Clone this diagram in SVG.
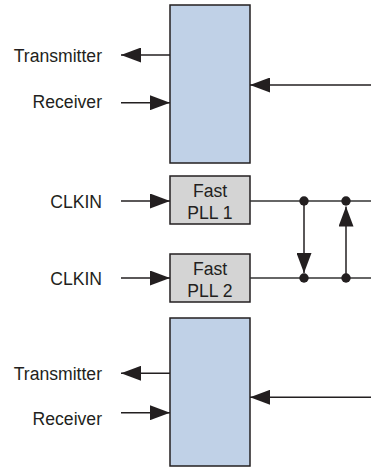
<svg xmlns="http://www.w3.org/2000/svg" width="371" height="476" viewBox="0 0 371 476">
<defs>
<marker id="ah" viewBox="0 0 20 15" refX="20" refY="7.5" markerWidth="20" markerHeight="15" markerUnits="userSpaceOnUse" orient="auto">
<path d="M0,0 L20,7.5 L0,15 Z" fill="#231f20"/>
</marker>
</defs>
<style>
.lbl{font-family:"Liberation Sans",Arial,sans-serif;font-size:17.6px;fill:#231f20}
.blk{fill:#c0d1e7;stroke:#231f20;stroke-width:1.5}
.pll{fill:#d4d4d4;stroke:#231f20;stroke-width:1.5}
.ln{stroke:#333;stroke-width:1.5;fill:none}
.ar{stroke:#231f20;stroke-width:1.5;fill:none;marker-end:url(#ah)}
.dot{fill:#231f20}
</style>
<g id="block-top">
<rect class="blk" x="170" y="5" width="80" height="158"/>
</g>
<g id="pll1">
<rect class="pll" x="170" y="176" width="80" height="48"/>
<text class="lbl" x="210" y="196.5" text-anchor="middle">Fast</text>
<text class="lbl" x="210" y="219" text-anchor="middle">PLL 1</text>
</g>
<g id="pll2">
<rect class="pll" x="170" y="254" width="80" height="48"/>
<text class="lbl" x="210" y="275" text-anchor="middle">Fast</text>
<text class="lbl" x="210" y="297" text-anchor="middle">PLL 2</text>
</g>
<g id="block-bottom">
<rect class="blk" x="170" y="318" width="80" height="148"/>
</g>
<g id="labels">
<text class="lbl" x="102" y="61.5" text-anchor="end">Transmitter</text>
<text class="lbl" x="102" y="108" text-anchor="end">Receiver</text>
<text class="lbl" x="102" y="208" text-anchor="end">CLKIN</text>
<text class="lbl" x="102" y="285" text-anchor="end">CLKIN</text>
<text class="lbl" x="102" y="379.5" text-anchor="end">Transmitter</text>
<text class="lbl" x="102" y="425" text-anchor="end">Receiver</text>
</g>
<g id="connectors">
<line class="ar" x1="170" y1="55" x2="121" y2="55"/>
<line class="ar" x1="121" y1="102.7" x2="170" y2="102.7"/>
<line class="ar" x1="371" y1="85" x2="250" y2="85"/>
<line class="ar" x1="121" y1="201" x2="170" y2="201"/>
<line class="ar" x1="121" y1="278" x2="170" y2="278"/>
<line class="ln" x1="250" y1="201" x2="371" y2="201"/>
<line class="ln" x1="250" y1="278" x2="371" y2="278"/>
<line class="ar" x1="304" y1="201" x2="304" y2="273"/>
<line class="ar" x1="346" y1="278" x2="346" y2="206.5"/>
<circle class="dot" cx="304" cy="201" r="4.7"/>
<circle class="dot" cx="346" cy="201" r="4.7"/>
<circle class="dot" cx="304" cy="278" r="4.7"/>
<circle class="dot" cx="346" cy="278" r="4.7"/>
<line class="ar" x1="170" y1="373.3" x2="121" y2="373.3"/>
<line class="ar" x1="121" y1="412.7" x2="170" y2="412.7"/>
<line class="ar" x1="371" y1="397.3" x2="250" y2="397.3"/>
</g>
</svg>
